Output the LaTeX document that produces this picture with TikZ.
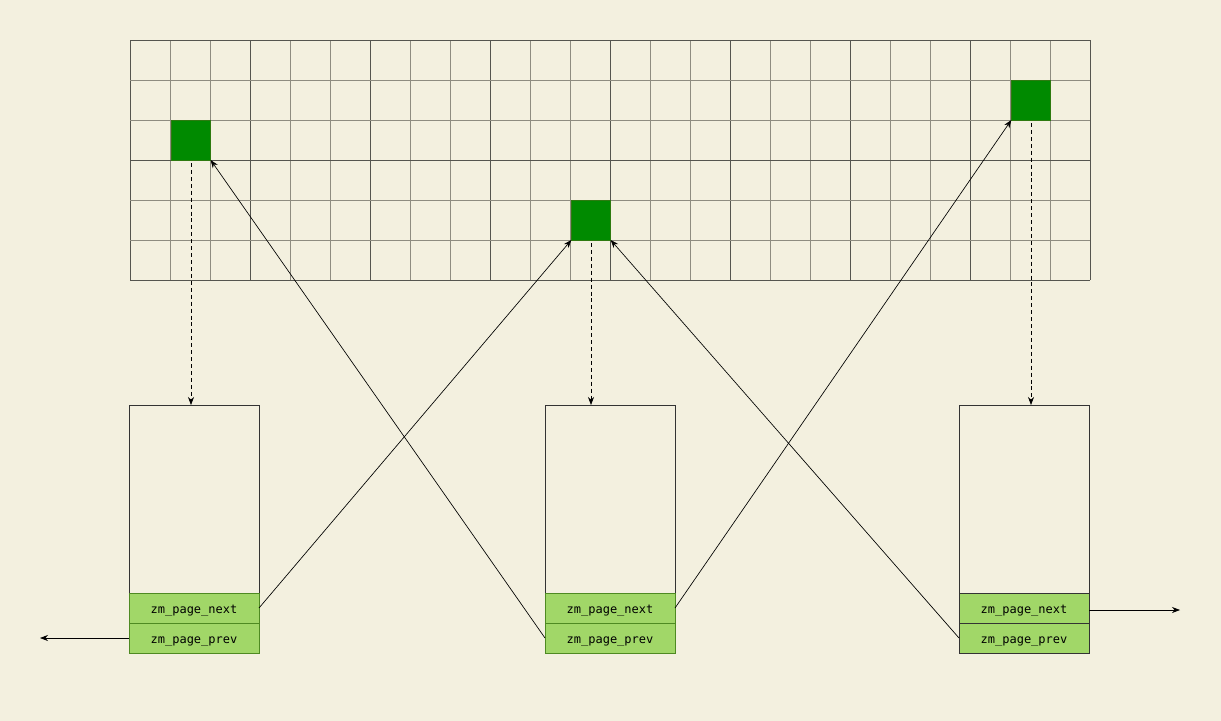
\documentclass[tikz,border=0pt]{standalone}
\usepackage{fontspec}
\setmonofont{DejaVu Sans Mono}
\usetikzlibrary{arrows.meta}
\definecolor{bg}{HTML}{F3F0DF}
\definecolor{minorline}{HTML}{8E8C80}
\definecolor{majorline}{HTML}{55554F}
\definecolor{sqfill}{HTML}{008A00}
\definecolor{sqdraw}{HTML}{2D7A10}
\definecolor{fieldfill}{HTML}{A1D768}
\definecolor{fielddraw}{HTML}{4E8A22}
\definecolor{boxdraw}{HTML}{333333}
\tikzset{
  px/.style={x=0.75pt,y=-0.75pt},
  cell/.style={draw=sqdraw,fill=sqfill,line width=0.6pt,minimum width=29.5pt,minimum height=30pt,inner sep=0pt,outer sep=0pt},
  pagebox/.style={draw=boxdraw,fill=bg,line width=0.7pt,minimum width=97.5pt,minimum height=186pt,inner sep=0pt,outer sep=0pt},
  field/.style={draw=fielddraw,fill=fieldfill,line width=0.7pt,minimum width=97.5pt,minimum height=22.5pt,inner sep=0pt,outer sep=0pt,text height=8.5pt,text depth=0pt,font=\ttfamily\fontsize{9}{10}\selectfont,text=black},
  fieldd/.style={field,draw=boxdraw},
  link/.style={draw=black,line width=0.5pt,-{Stealth[length=6pt,width=4.5pt]}},
  dlink/.style={link,dashed,dash pattern=on 3pt off 2.2pt},
}
\begin{document}
\begin{tikzpicture}[px]
\fill[bg] (0,0) rectangle (1221,721);
\useasboundingbox (0,0) rectangle (1221,721);
% grid
\foreach \i in {0,...,24}{
  \pgfmathtruncatemacro{\m}{mod(\i,3)}
  \ifnum\m=0
    \draw[majorline,line width=0.5pt] (130+40*\i,40) -- (130+40*\i,280);
  \else
    \draw[minorline,line width=0.5pt] (130+40*\i,40) -- (130+40*\i,280);
  \fi
}
\foreach \j in {0,...,6}{
  \pgfmathtruncatemacro{\m}{mod(\j,3)}
  \ifnum\m=0
    \draw[majorline,line width=0.5pt] (130,40+40*\j) -- (1090,40+40*\j);
  \else
    \draw[minorline,line width=0.5pt] (130,40+40*\j) -- (1090,40+40*\j);
  \fi
}
% green cells
\node[cell] (c1) at (191,140) {};
\node[cell] (c2) at (591,220) {};
\node[cell] (c3) at (1031,100) {};
% page boxes
\node[pagebox] (b1) at (194,529) {};
\node[pagebox] (b2) at (610,529) {};
\node[pagebox] (b3) at (1024,529) {};
\node[field] (n1) at (194,608) {zm\_page\_next};
\node[field] (p1) at (194,638) {zm\_page\_prev};
\node[field] (n2) at (610,608) {zm\_page\_next};
\node[field] (p2) at (610,638) {zm\_page\_prev};
\node[fieldd] (n3) at (1024,608) {zm\_page\_next};
\node[fieldd] (p3) at (1024,638) {zm\_page\_prev};
% free ends
\coordinate (leftend) at (40,638);
\coordinate (rightend) at (1180,610);
% dashed links
\draw[dlink] ([yshift=-2.25pt]c1.south) -- (c1.south |- b1.north);
\draw[dlink] ([yshift=-2.25pt]c2.south) -- (c2.south |- b2.north);
\draw[dlink] ([yshift=-2.25pt]c3.south) -- (c3.south |- b3.north);
% solid links
\draw[link] (n1.east) -- (c2.south west);
\draw[link] (p2.west) -- (c1.south east);
\draw[link] (n2.east) -- (c3.south west);
\draw[link] (p3.west) -- (c2.south east);
\draw[link] (p1.west) -- (leftend);
\draw[link] (n3.east |- rightend) -- (rightend);
\end{tikzpicture}
\end{document}
